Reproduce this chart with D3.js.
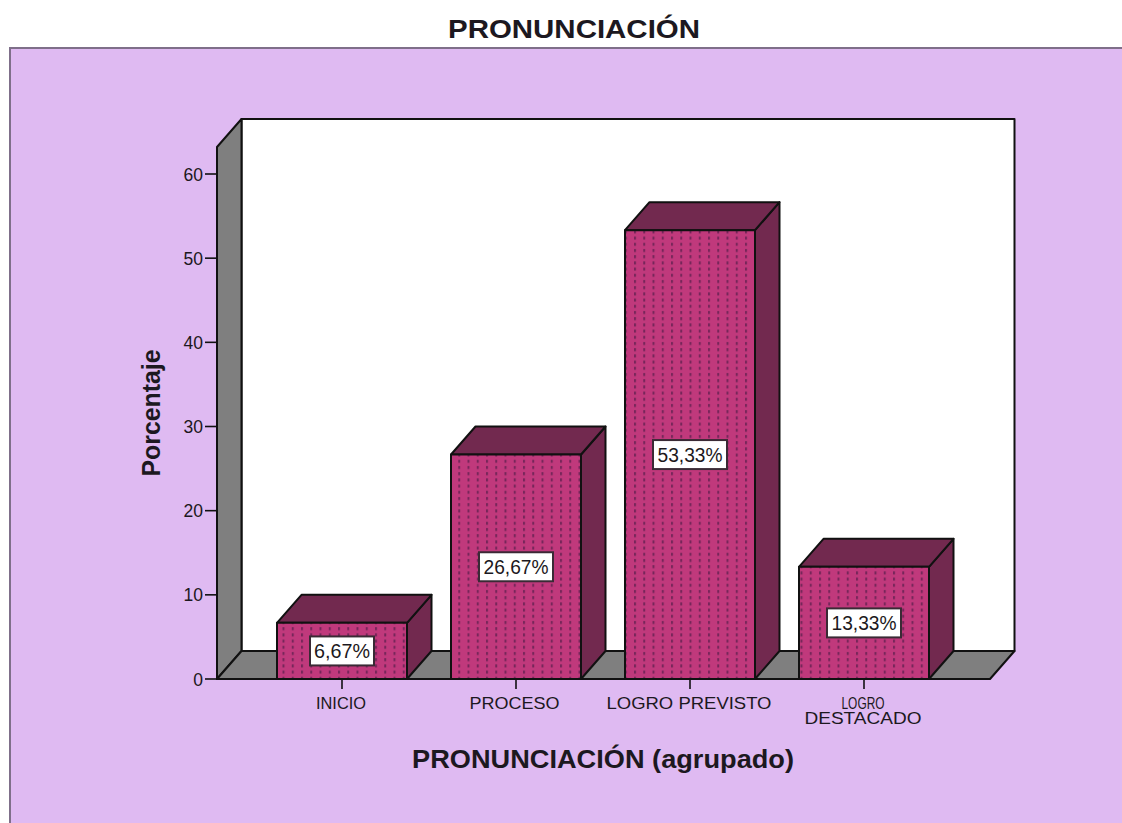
<!DOCTYPE html>
<html><head><meta charset="utf-8">
<script src="https://cdn.jsdelivr.net/npm/d3@7"></script>
<style>html,body{margin:0;padding:0;background:#fff}svg{display:block}text{font-family:"Liberation Sans",Arial,sans-serif;fill:#1c1820}</style>
</head><body><div id="c"></div>
<script>
const categories=["INICIO","PROCESO","LOGRO PREVISTO","LOGRO DESTACADO"];
const categoryLines=[["INICIO"],["PROCESO"],["LOGRO PREVISTO"],["LOGRO","DESTACADO"]];
const categoryWidths=[[50],[90],[165],[43,117]];
const percentages=[6.67,26.67,53.33,13.33];
const valueLabels=["6,67%","26,67%","53,33%","13,33%"];
const yTicks=[0,10,20,30,40,50,60];
const titleText="PRONUNCIACIÓN",xTitle="PRONUNCIACIÓN (agrupado)",yTitle="Porcentaje";
const W=1122,H=823,dx=24.5,dy=-28,y0=679,fx0=217,fx1=990;
const ink="#111",lw=2;
const svg=d3.select("#c").append("svg").attr("width",W).attr("height",H);
const y=d3.scaleLinear().domain([0,60]).range([y0,174]);
const x=d3.scaleBand().domain(categories).range([277,929]).paddingInner(44/174).paddingOuter(0);
const topY=147;
const defs=svg.append("defs");
const pat=defs.append("pattern").attr("id","dots").attr("patternUnits","userSpaceOnUse").attr("width",9.25).attr("height",6.2).attr("x",282.5).attr("y",0);
pat.append("rect").attr("width",9.25).attr("height",6.2).attr("fill","#C0397C");
pat.append("rect").attr("x",0).attr("y",1).attr("width",2).attr("height",3).attr("fill","#76265a");
svg.append("rect").attr("x",10).attr("y",48).attr("width",W).attr("height",H).attr("fill","#DFBAF2").attr("stroke","#7f6f8a").attr("stroke-width",2);
const poly=(pts,f)=>svg.append("path").attr("d","M"+pts.map(p=>p.join(",")).join("L")+"Z").attr("fill",f).attr("stroke",ink).attr("stroke-width",lw).attr("stroke-linejoin","round");
poly([[fx0+dx,topY+dy],[fx1+dx,topY+dy],[fx1+dx,y0+dy],[fx0+dx,y0+dy]],"#fff");
poly([[fx0,topY],[fx0+dx,topY+dy],[fx0+dx,y0+dy],[fx0,y0]],"#7F7F7F");
poly([[fx0,y0],[fx0+dx,y0+dy],[fx1+dx,y0+dy],[fx1,y0]],"#7F7F7F");
const fit=(sel,len)=>sel.attr("textLength",len).attr("lengthAdjust","spacingAndGlyphs");
const yg=svg.append("g");
yTicks.forEach(t=>{
 yg.append("line").attr("x1",fx0-12).attr("x2",fx0).attr("y1",y(t)).attr("y2",y(t)).attr("stroke",ink).attr("stroke-width",1.6);
 yg.append("text").attr("x",203).attr("y",y(t)+6.5).attr("text-anchor","end").attr("font-size",17.5).text(t);
});
categories.forEach((c,i)=>{
 const cx=x(c)+x.bandwidth()/2;
 svg.append("line").attr("x1",cx).attr("x2",cx).attr("y1",y0).attr("y2",y0+10).attr("stroke",ink).attr("stroke-width",1.6);
 categoryLines[i].forEach((l,j)=>fit(svg.append("text").attr("x",cx+(i==0?-1:i==3?-1:i==1?-1.5:-1)).attr("y",708.5+j*15.5).attr("text-anchor","middle").attr("font-size",17).text(l),categoryWidths[i][j]));
});
categories.forEach((c,i)=>{
 const a=x(c),b=a+x.bandwidth(),t=y(percentages[i]);
 poly([[b,t],[b+dx,t+dy],[b+dx,y0+dy],[b,y0]],"#72294F");
 poly([[a,t],[a+dx,t+dy],[b+dx,t+dy],[b,t]],"#72294F");
 poly([[a,t],[b,t],[b,y0],[a,y0]],"url(#dots)");
 const cx=(a+b)/2,cy=(t+y0)/2;
 const w=i==0?64:74;
 svg.append("rect").attr("x",cx-w/2).attr("y",cy-14.5).attr("width",w).attr("height",29).attr("fill","#fff").attr("stroke","#3a2a35").attr("stroke-width",2);
 fit(svg.append("text").attr("x",cx).attr("y",cy+7).attr("text-anchor","middle").attr("font-size",19.5).text(valueLabels[i]),i==0?56:65);
});
fit(svg.append("text").attr("x",574).attr("y",38).attr("text-anchor","middle").attr("font-size",26).attr("font-weight","bold").text(titleText),252);
fit(svg.append("text").attr("x",603).attr("y",768).attr("text-anchor","middle").attr("font-size",26).attr("font-weight","bold").text(xTitle),382);
fit(svg.append("text").attr("transform","translate(160,413) rotate(-90)").attr("text-anchor","middle").attr("font-size",26).attr("font-weight","bold").text(yTitle),127);
</script></body></html>
